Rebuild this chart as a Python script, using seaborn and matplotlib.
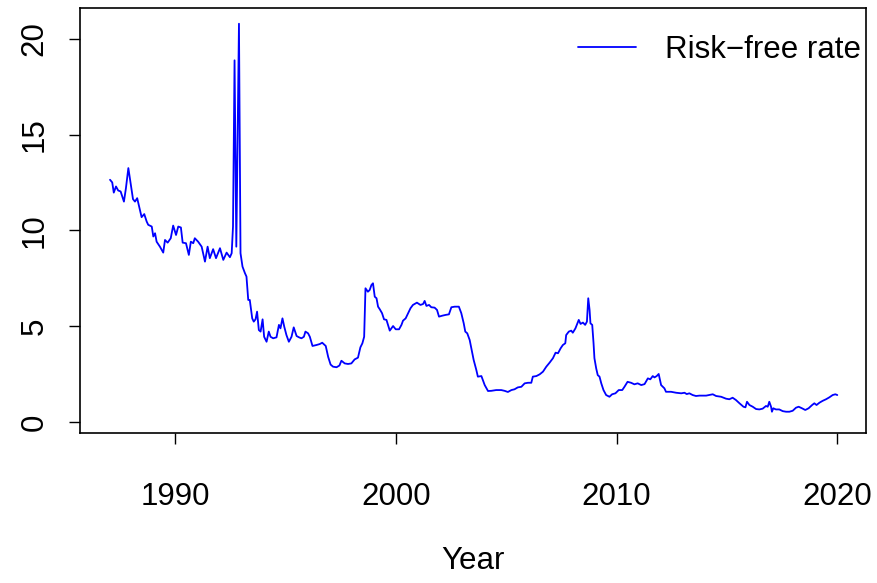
import matplotlib
matplotlib.use("Agg")
import matplotlib.pyplot as plt
import seaborn as sns
import pandas as pd

year = [
    1987.06, 1987.16, 1987.23, 1987.33, 1987.43, 1987.54, 1987.69, 1987.78, 1987.89, 1987.99,
    1988.10, 1988.19, 1988.29, 1988.38, 1988.49, 1988.61, 1988.72, 1988.79, 1988.95, 1989.02,
    1989.10, 1989.17, 1989.32, 1989.47, 1989.55, 1989.67, 1989.81, 1989.92, 1990.05, 1990.15,
    1990.27, 1990.35, 1990.50, 1990.63, 1990.72, 1990.83, 1990.90, 1991.05, 1991.21, 1991.36,
    1991.48, 1991.58, 1991.73, 1991.86, 1992.04, 1992.19, 1992.34, 1992.49, 1992.57, 1992.63,
    1992.70, 1992.78, 1992.90, 1992.97, 1993.06, 1993.17, 1993.24, 1993.32, 1993.39, 1993.50,
    1993.57, 1993.65, 1993.72, 1993.80, 1993.88, 1993.97, 1994.04, 1994.15, 1994.25, 1994.33,
    1994.45, 1994.60, 1994.71, 1994.78, 1994.87, 1994.95, 1995.05, 1995.16, 1995.28, 1995.38,
    1995.51, 1995.62, 1995.73, 1995.84, 1995.91, 1996.03, 1996.11, 1996.23, 1996.41, 1996.56,
    1996.67, 1996.83, 1996.94, 1997.05, 1997.16, 1997.32, 1997.45, 1997.54, 1997.69, 1997.84,
    1997.99, 1998.14, 1998.29, 1998.40, 1998.49, 1998.57, 1998.63, 1998.74, 1998.82, 1998.90,
    1998.97, 1999.05, 1999.13, 1999.20, 1999.28, 1999.38, 1999.47, 1999.58, 1999.65, 1999.73,
    1999.88, 2000.00, 2000.15, 2000.26, 2000.33, 2000.45, 2000.56, 2000.67, 2000.78, 2000.96,
    2001.12, 2001.24, 2001.31, 2001.39, 2001.51, 2001.61, 2001.76, 2001.87, 2001.96, 2002.11,
    2002.26, 2002.41, 2002.52, 2002.67, 2002.86, 2002.97, 2003.08, 2003.15, 2003.24, 2003.35,
    2003.44, 2003.53, 2003.65, 2003.72, 2003.88, 2004.03, 2004.18, 2004.33, 2004.55, 2004.78,
    2004.93, 2005.08, 2005.24, 2005.38, 2005.53, 2005.69, 2005.84, 2005.99, 2006.14, 2006.21,
    2006.37, 2006.52, 2006.67, 2006.82, 2006.97, 2007.12, 2007.24, 2007.35, 2007.47, 2007.57,
    2007.68, 2007.72, 2007.84, 2007.95, 2008.02, 2008.14, 2008.29, 2008.37, 2008.48, 2008.58,
    2008.66, 2008.72, 2008.78, 2008.82, 2008.90, 2008.96, 2009.00, 2009.08, 2009.15, 2009.23,
    2009.31, 2009.41, 2009.53, 2009.68, 2009.80, 2009.95, 2010.10, 2010.26, 2010.36, 2010.50,
    2010.66, 2010.81, 2010.96, 2011.12, 2011.27, 2011.42, 2011.53, 2011.64, 2011.72, 2011.82,
    2011.91, 2012.02, 2012.17, 2012.24, 2012.47, 2012.70, 2012.93, 2013.08, 2013.18, 2013.30,
    2013.45, 2013.60, 2013.76, 2014.06, 2014.36, 2014.51, 2014.74, 2014.96, 2015.11, 2015.26,
    2015.41, 2015.57, 2015.75, 2015.84, 2015.91, 2016.02, 2016.17, 2016.32, 2016.47, 2016.62,
    2016.77, 2016.85, 2016.92, 2017.00, 2017.04, 2017.10, 2017.22, 2017.37, 2017.53, 2017.68,
    2017.83, 2017.98, 2018.13, 2018.25, 2018.40, 2018.55, 2018.70, 2018.86, 2018.96, 2019.06,
    2019.19, 2019.34, 2019.49, 2019.64, 2019.79, 2019.91, 2020.00,
]

rate = [
    12.64, 12.50, 11.97, 12.29, 12.08, 12.03, 11.50, 12.20, 13.25, 12.46,
    11.63, 11.50, 11.68, 11.24, 10.69, 10.85, 10.46, 10.29, 10.20, 9.68,
    9.85, 9.41, 9.15, 8.84, 9.50, 9.36, 9.59, 10.25, 9.76, 10.20,
    10.15, 9.36, 9.33, 8.72, 9.41, 9.33, 9.59, 9.41, 9.15, 8.37,
    9.15, 8.55, 9.02, 8.55, 9.07, 8.46, 8.84, 8.60, 8.81, 10.20,
    18.87, 9.15, 20.78, 8.81, 8.11, 7.77, 7.59, 6.37, 6.37, 5.41,
    5.24, 5.36, 5.76, 4.80, 4.72, 5.36, 4.45, 4.19, 4.72, 4.45,
    4.37, 4.42, 5.07, 4.89, 5.41, 4.98, 4.54, 4.19, 4.45, 4.94,
    4.49, 4.42, 4.37, 4.45, 4.72, 4.63, 4.45, 3.97, 4.02, 4.07,
    4.14, 3.97, 3.40, 3.00, 2.89, 2.86, 2.95, 3.20, 3.06, 3.03,
    3.06, 3.27, 3.36, 3.90, 4.11, 4.45, 6.98, 6.80, 6.89, 7.15,
    7.24, 6.54, 6.46, 6.02, 5.88, 5.68, 5.36, 5.33, 5.07, 4.77,
    5.01, 4.84, 4.84, 5.07, 5.29, 5.41, 5.68, 5.94, 6.11, 6.23,
    6.11, 6.16, 6.32, 6.06, 6.11, 5.99, 5.97, 5.85, 5.50, 5.55,
    5.59, 5.62, 5.99, 6.02, 6.02, 5.68, 5.15, 4.72, 4.63, 4.28,
    3.76, 3.24, 2.72, 2.37, 2.40, 1.93, 1.62, 1.63, 1.67, 1.67,
    1.63, 1.57, 1.67, 1.71, 1.81, 1.84, 2.02, 2.05, 2.05, 2.37,
    2.40, 2.49, 2.63, 2.89, 3.10, 3.33, 3.62, 3.59, 3.85, 4.02,
    4.11, 4.54, 4.72, 4.77, 4.66, 4.89, 5.33, 5.12, 5.19, 5.07,
    5.24, 6.46, 5.85, 5.15, 5.07, 4.11, 3.33, 2.80, 2.45, 2.37,
    2.02, 1.67, 1.41, 1.32, 1.45, 1.50, 1.67, 1.67, 1.84, 2.10,
    2.05, 1.97, 2.02, 1.93, 1.98, 2.28, 2.23, 2.40, 2.33, 2.40,
    2.51, 1.93, 1.76, 1.58, 1.58, 1.53, 1.50, 1.53, 1.46, 1.50,
    1.41, 1.36, 1.38, 1.38, 1.45, 1.36, 1.32, 1.22, 1.19, 1.27,
    1.15, 0.98, 0.80, 0.77, 1.06, 0.89, 0.80, 0.68, 0.66, 0.70,
    0.84, 0.80, 1.06, 0.80, 0.54, 0.72, 0.66, 0.66, 0.57, 0.54,
    0.54, 0.59, 0.75, 0.80, 0.72, 0.63, 0.72, 0.89, 0.98, 0.89,
    1.01, 1.11, 1.19, 1.29, 1.41, 1.45, 1.41,
]

x_ticks = [1990, 2000, 2010, 2020]
y_ticks = [0, 5, 10, 15, 20]
series_label = "Risk\u2212free rate"
x_label = "Year"

df = pd.DataFrame({"Year": year, "rate": rate})

sns.set_style("white")
plt.rcParams["font.family"] = ["Liberation Sans", "DejaVu Sans"]
plt.rcParams["text.color"] = "black"

FS = 22.5

fig = plt.figure(figsize=(8.78, 5.83), dpi=100)
ax = fig.add_axes([80 / 878, 1 - 433 / 583, (866 - 80) / 878, (433 - 8) / 583])

sns.lineplot(data=df, x="Year", y="rate", ax=ax, color="#0000FF",
             linewidth=1.3, sort=False, estimator=None, label=series_label)

ax.set_xlim(1985.7, 2021.3)
ax.set_ylim(-0.57, 21.6)
ax.set_xticks(x_ticks)
ax.set_xticklabels([str(t) for t in x_ticks])
ax.set_yticks(y_ticks)
ax.set_yticklabels([str(t) for t in y_ticks], rotation=90, va="center")

for s in ax.spines.values():
    s.set_visible(True)
    s.set_color("black")
    s.set_linewidth(1.2)

ax.tick_params(axis="both", which="both", direction="out", length=8, width=1.0,
               color="black", labelsize=FS, labelcolor="black",
               bottom=True, left=True, top=False, right=False)
ax.tick_params(axis="x", pad=27)
ax.tick_params(axis="y", pad=14)

ax.set_xlabel(x_label, fontsize=FS, labelpad=25, color="black")
ax.set_ylabel("")

leg = ax.legend(loc="center right", bbox_to_anchor=(1.018, 1 - 42 / 425),
                frameon=False, fontsize=FS,
                handlelength=1.85, handletextpad=0.95, borderaxespad=0.2)
for t in leg.get_texts():
    t.set_color("black")

fig.savefig("out.png", dpi=100)
